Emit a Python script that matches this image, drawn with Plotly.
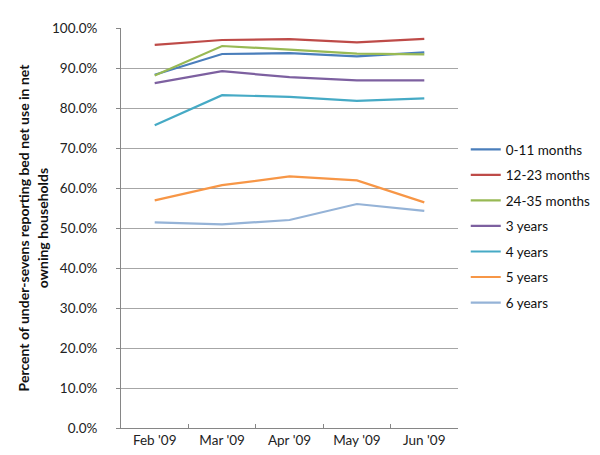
import plotly.graph_objects as go

months = ["Feb '09", "Mar '09", "Apr '09", "May '09", "Jun '09"]
series_names = ["0-11 months", "12-23 months", "24-35 months", "3 years", "4 years", "5 years", "6 years"]
v_0_11 = [0.883, 0.935, 0.937, 0.929, 0.939]
v_12_23 = [0.958, 0.970, 0.972, 0.964, 0.973]
v_24_35 = [0.881, 0.955, 0.946, 0.936, 0.934]
v_3y = [0.862, 0.892, 0.877, 0.869, 0.869]
v_4y = [0.757, 0.832, 0.828, 0.818, 0.824]
v_5y = [0.569, 0.607, 0.629, 0.619, 0.564]
v_6y = [0.514, 0.509, 0.520, 0.560, 0.543]
values = [v_0_11, v_12_23, v_24_35, v_3y, v_4y, v_5y, v_6y]
colors = ["#4A7EBB", "#BE4B48", "#98B954", "#7D60A0", "#46AAC5", "#F79646", "#95B3D7"]

fig = go.Figure()
for name, vals, c in zip(series_names, values, colors):
    fig.add_trace(go.Scatter(x=months, y=vals, mode="lines", name=name,
                             legendgroup=name,
                             line=dict(color=c, width=2.2)))

font_family = "Lato, Open Sans, sans-serif"
fig.update_layout(
    width=600, height=455,
    margin=dict(l=113, r=140, t=13, b=35),
    paper_bgcolor="white", plot_bgcolor="white",
    font=dict(family=font_family, size=13, color="#222"),
    showlegend=True,
    legend=dict(x=1.023, y=0.735, xanchor="left", yanchor="top",
                font=dict(size=13.5, color="#111"), tracegroupgap=5,
                itemwidth=30, bgcolor="rgba(0,0,0,0)"),
    xaxis=dict(type="category", range=[-0.5, 4.5], showgrid=False,
               showline=True, linecolor="#868686", linewidth=1,
               ticks="inside", tickson="boundaries", ticklen=4, tickcolor="#868686",
               tickfont=dict(size=13.5, color="#222")),
    yaxis=dict(range=[0, 1.0], dtick=0.1, tickformat=".1%",
               showgrid=True, gridcolor="#A6A6A6", gridwidth=1,
               showline=True, linecolor="#868686", linewidth=1,
               ticks="outside", ticklen=4, tickcolor="#868686",
               ticklabelstandoff=16,
               zeroline=False,
               tickfont=dict(size=13.5, color="#222"),
               title=dict(text="<b>Percent of under-sevens reporting bed net use in net<br>owning households</b>",
                          font=dict(size=14, color="#111"), standoff=0)),
)

fig.write_html("out.html")
